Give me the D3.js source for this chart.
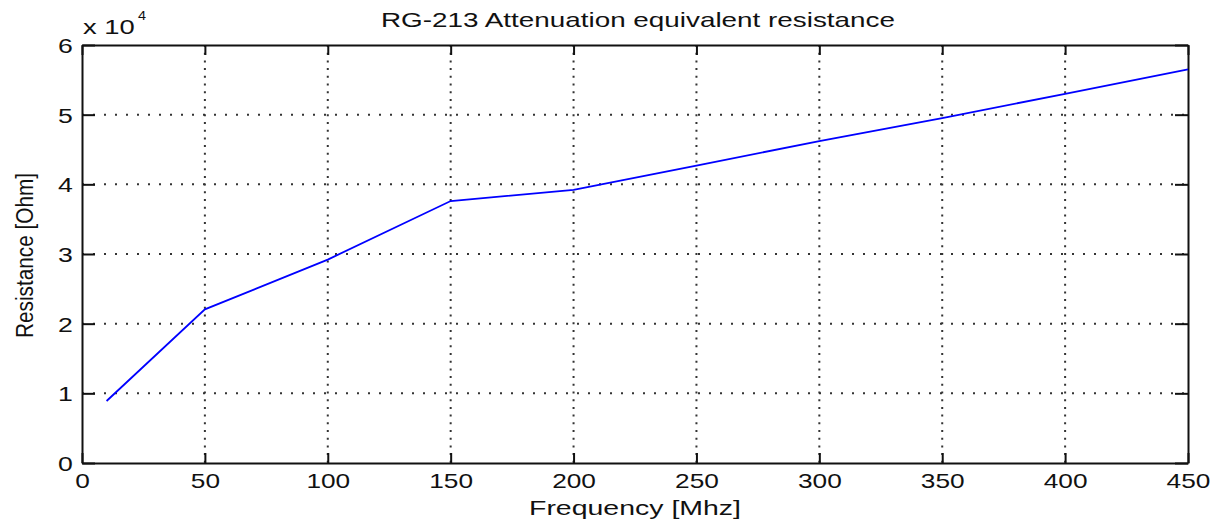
<!DOCTYPE html>
<html>
<head>
<meta charset="utf-8">
<script src="https://cdn.jsdelivr.net/npm/d3@7"></script>
<style>
	body { margin: 0; background: #fff; }
	text { font-family: Arial, "Liberation Sans", sans-serif; fill: #111; }
</style>
</head>
<body>
<div id="chart"></div>
<script>
// values
var freq = [10, 50, 100, 150, 200, 250, 300, 350, 400, 450];
var resistance = [8900, 22050, 29200, 37600, 39200, 42700, 46200, 49500, 53000, 56500];
var xTicks = [0, 50, 100, 150, 200, 250, 300, 350, 400, 450];
var yTicks = [0, 10000, 20000, 30000, 40000, 50000, 60000];

var margin = {top: 45, right: 31, bottom: 60, left: 82},
	width = 1219 - margin.left - margin.right,
	height = 523 - margin.top - margin.bottom;

var svg = d3.select('#chart').append("svg")
	.attr('width', 1219)
	.attr('height', 523);

var g = svg.append("g")
	.attr("transform", "translate(" + margin.left + "," + margin.top + ")");

var x = d3.scaleLinear().domain([0, 450]).range([0, width]);
var y = d3.scaleLinear().domain([0, 60000]).range([height, 0]);

// dotted grid
g.selectAll(".vgrid")
	.data(xTicks.slice(1, -1))
	.enter()
	.append("line")
		.attr("x1", d => x(d)).attr("x2", d => x(d))
		.attr("y1", 0).attr("y2", height)
		.attr("stroke", "#333")
		.attr("stroke-width", 2)
		.attr("stroke-dasharray", "2,5.7");

g.selectAll(".hgrid")
	.data(yTicks.slice(1, -1))
	.enter()
	.append("line")
		.attr("x1", 0).attr("x2", width)
		.attr("y1", d => y(d)).attr("y2", d => y(d))
		.attr("stroke", "#333")
		.attr("stroke-width", 2)
		.attr("stroke-dasharray", "2,9");

// axes, ticks pointing inwards
var xAxis = g.append("g")
	.attr("transform", "translate(0," + height + ")")
	.call(d3.axisBottom(x).tickValues(xTicks).tickSize(-10).tickPadding(10).tickSizeOuter(0));
xAxis.selectAll("text")
	.attr("font-size", "21px")
	.attr("transform", "scale(1.25,1)");

var yAxis = g.append("g")
	.call(d3.axisLeft(y).tickValues(yTicks).tickSize(-13).tickPadding(7).tickSizeOuter(0)
		.tickFormat(d => d / 10000));
yAxis.selectAll("text")
	.attr("font-size", "20.5px")
	.attr("dy", "0.36em")
	.attr("transform", "scale(1.3,1)");

g.append("g")
	.call(d3.axisTop(x).tickValues(xTicks).tickSize(-10).tickSizeOuter(0).tickFormat(""));
g.append("g")
	.attr("transform", "translate(" + width + ",0)")
	.call(d3.axisRight(y).tickValues(yTicks).tickSize(-13).tickSizeOuter(0).tickFormat(""));

g.selectAll(".domain").attr("stroke", "#111").attr("stroke-width", 2);
g.selectAll(".tick line").attr("stroke", "#111").attr("stroke-width", 2);

// the curve
var line = d3.line()
	.x((d, i) => x(freq[i]))
	.y(d => y(d));

g.append("path")
	.datum(resistance)
	.attr("fill", "none")
	.attr("stroke", "#0000ff")
	.attr("stroke-width", 1.8)
	.attr("d", line);

// texts
svg.append("text")
	.attr("x", 638)
	.attr("y", 27)
	.attr("text-anchor", "middle")
	.attr("font-size", "21px")
	.attr("textLength", 514)
	.attr("lengthAdjust", "spacingAndGlyphs")
	.text("RG-213 Attenuation equivalent resistance");

svg.append("text")
	.attr("x", margin.left + width / 2)
	.attr("y", 515)
	.attr("text-anchor", "middle")
	.attr("font-size", "21px")
	.attr("textLength", 212)
	.attr("lengthAdjust", "spacingAndGlyphs")
	.text("Frequency [Mhz]");

svg.append("text")
	.attr("transform", "translate(33,255.5) scale(1.25,1) rotate(-90)")
	.attr("text-anchor", "middle")
	.attr("font-size", "19px")
	.attr("textLength", 165)
	.attr("lengthAdjust", "spacingAndGlyphs")
	.text("Resistance [Ohm]");

svg.append("text")
	.attr("transform", "translate(83,34) scale(1.37,1)")
	.attr("font-size", "20px")
	.text("x 10");
svg.append("text")
	.attr("transform", "translate(138,20) scale(1.2,1)")
	.attr("font-size", "12px")
	.text("4");
</script>
</body>
</html>
